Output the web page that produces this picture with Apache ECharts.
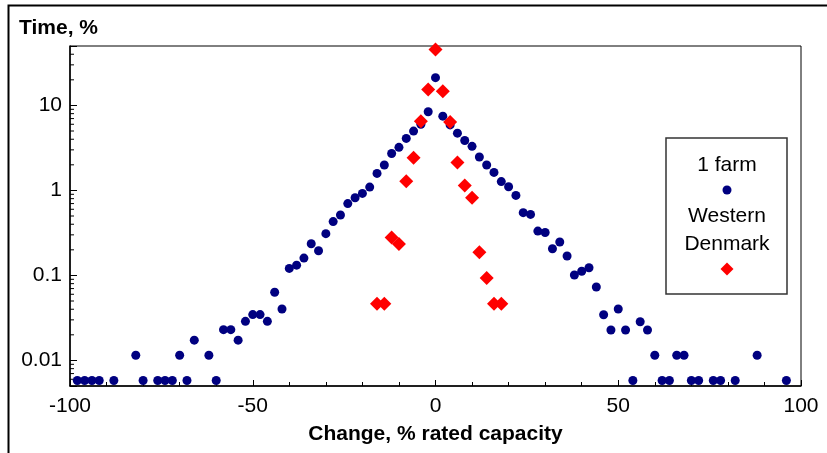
<!DOCTYPE html>
<html>
<head>
<meta charset="utf-8">
<script src="https://cdn.jsdelivr.net/npm/echarts@6/dist/echarts.min.js"></script>
<style>
  html, body { margin: 0; padding: 0; background: #fff; }
  #chart { width: 827px; height: 453px; }
</style>
</head>
<body>
<div id="chart"></div>
<script>
// single farm: change bins (% rated capacity) and time share (%)
const farmChange = [
  -98, -96, -94, -92, -88, -82, -80, -76, -74, -72,
  -70, -68, -66, -62, -60, -58, -56, -54, -52, -50,
  -48, -46, -44, -42, -40, -38, -36, -34, -32, -30,
  -28, -26, -24, -22, -20, -18, -16, -14, -12, -10,
  -8, -6, -4, -2, 0, 2, 4, 6, 8, 10,
  12, 14, 16, 18, 20, 22, 24, 26, 28, 30,
  32, 34, 36, 38, 40, 42, 44, 46, 48, 50,
  52, 54, 56, 58, 60, 62, 64, 66, 68, 70,
  72, 76, 78, 82, 88, 96
];
const farmTime = [
  0.0058, 0.0058, 0.0058, 0.0058, 0.0058, 0.0115, 0.0058, 0.0058, 0.0058, 0.0058,
  0.0115, 0.0058, 0.0173, 0.0115, 0.0058, 0.023, 0.023, 0.0173, 0.0288, 0.0346,
  0.0346, 0.0288, 0.0634, 0.0403, 0.121, 0.132, 0.16, 0.236, 0.195, 0.31,
  0.43, 0.514, 0.70, 0.82, 0.922, 1.094, 1.585, 1.99, 2.72, 3.21,
  4.09, 4.99, 6.0, 8.43, 21.2, 7.48, 5.9, 4.72, 3.87, 3.3,
  2.47, 1.99, 1.63, 1.27, 1.106, 0.874, 0.547, 0.522, 0.332, 0.32,
  0.206, 0.247, 0.169, 0.101, 0.112, 0.123, 0.073, 0.0345, 0.0228, 0.0403,
  0.0228, 0.0058, 0.0285, 0.0228, 0.0115, 0.0058, 0.0058, 0.0115, 0.0115, 0.0058,
  0.0058, 0.0058, 0.0058, 0.0058, 0.0115, 0.0058
];

// Western Denmark
const dkChange = [-16, -14, -12, -10, -8, -6, -4, -2, 0, 2, 4, 6, 8, 10, 12, 14, 16, 18];
const dkTime = [0.0465, 0.0465, 0.28, 0.234, 1.28, 2.43, 6.53, 15.4, 45.6, 14.7, 6.37, 2.13, 1.145, 0.82, 0.187, 0.093, 0.0465, 0.0465];

// log axis minor ticks (2..9 x each decade)
const yMinorTicks = [
  0.006, 0.007, 0.008, 0.009,
  0.02, 0.03, 0.04, 0.05, 0.06, 0.07, 0.08, 0.09,
  0.2, 0.3, 0.4, 0.5, 0.6, 0.7, 0.8, 0.9,
  2, 3, 4, 5, 6, 7, 8, 9,
  20, 30, 40
];

const legendNames = ['1 farm', 'Western', 'Denmark'];

const FONT = '"Liberation Sans", Arial, sans-serif';
const BLUE = '#000080';
const RED = '#ff0000';

const chart = echarts.init(document.getElementById('chart'), null, { renderer: 'canvas' });

const option = {
  backgroundColor: '#fff',
  animation: false,
  title: {
    text: 'Time, %',
    left: 14,
    top: 13,
    textStyle: { fontFamily: FONT, fontSize: 21, fontWeight: 'bold', color: '#000' }
  },
  grid: {
    left: 70, top: 46, right: 26, bottom: 67,
    show: true, borderColor: '#000', borderWidth: 1,
    containLabel: false, outerBoundsMode: 'none'
  },
  xAxis: {
    type: 'value',
    min: -100, max: 100, interval: 50,
    name: 'Change, % rated capacity',
    nameLocation: 'middle',
    nameGap: 38,
    nameTextStyle: { fontFamily: FONT, fontSize: 21, fontWeight: 'bold', color: '#000' },
    axisLine: { onZero: false, lineStyle: { color: '#000', width: 1.5 } },
    axisTick: { inside: true, length: 6, lineStyle: { color: '#000' } },
    minorTick: { show: true, splitNumber: 5, length: 4, lineStyle: { color: '#000' } },
    splitLine: { show: false },
    axisLabel: { margin: 10, fontFamily: FONT, fontSize: 21, color: '#000' }
  },
  yAxis: {
    type: 'log',
    logBase: 10,
    min: 0.005, max: 50,
    axisLine: { show: true, onZero: false, lineStyle: { color: '#000', width: 1.5 } },
    axisTick: { show: true, inside: true, length: 7, lineStyle: { color: '#000' } },
    splitLine: { show: false },
    axisLabel: {
      margin: 8,
      fontFamily: FONT, fontSize: 21, color: '#000',
      formatter: function (v) {
        const l = Math.log10(v);
        if (Math.abs(l - Math.round(l)) > 1e-6) return '';
        return String(+v.toPrecision(1));
      }
    }
  },
  series: [
    {
      type: 'custom',
      silent: true,
      clip: false,
      z: 1,
      data: yMinorTicks.map(v => [-100, v]),
      renderItem: function (params, api) {
        const p = api.coord([api.value(0), api.value(1)]);
        return {
          type: 'line',
          shape: { x1: p[0], y1: p[1], x2: p[0] + 4, y2: p[1] },
          style: { stroke: '#000', lineWidth: 1 }
        };
      }
    },
    {
      name: '1 farm',
      type: 'scatter',
      symbol: 'circle',
      symbolSize: 9,
      clip: false,
      itemStyle: { color: BLUE, opacity: 1 },
      data: farmChange.map((c, i) => [c, farmTime[i]])
    },
    {
      name: 'Western Denmark',
      type: 'scatter',
      symbol: 'diamond',
      symbolSize: 14,
      clip: false,
      itemStyle: { color: RED, opacity: 1 },
      data: dkChange.map((c, i) => [c, dkTime[i]])
    }
  ],
  graphic: [
    // outer frame
    {
      type: 'rect', silent: true,
      shape: { x: 8.5, y: 5.5, width: 900, height: 500 },
      style: { fill: 'none', stroke: '#000', lineWidth: 2 }
    },
    // legend box
    {
      type: 'rect', silent: true,
      shape: { x: 666, y: 138, width: 121, height: 156 },
      style: { fill: '#fff', stroke: '#333', lineWidth: 1.5 }
    },
    {
      type: 'text', silent: true, x: 727, y: 165,
      style: { text: legendNames[0], font: '21px ' + FONT, fill: '#000', align: 'center', verticalAlign: 'middle' }
    },
    {
      type: 'circle', silent: true,
      shape: { cx: 727, cy: 190, r: 4.5 },
      style: { fill: BLUE }
    },
    {
      type: 'text', silent: true, x: 727, y: 216,
      style: { text: legendNames[1], font: '21px ' + FONT, fill: '#000', align: 'center', verticalAlign: 'middle' }
    },
    {
      type: 'text', silent: true, x: 727, y: 244,
      style: { text: legendNames[2], font: '21px ' + FONT, fill: '#000', align: 'center', verticalAlign: 'middle' }
    },
    {
      type: 'polygon', silent: true,
      shape: { points: [[727, 262.5], [733.5, 269], [727, 275.5], [720.5, 269]] },
      style: { fill: RED }
    }
  ]
};

chart.setOption(option);
</script>
</body>
</html>
